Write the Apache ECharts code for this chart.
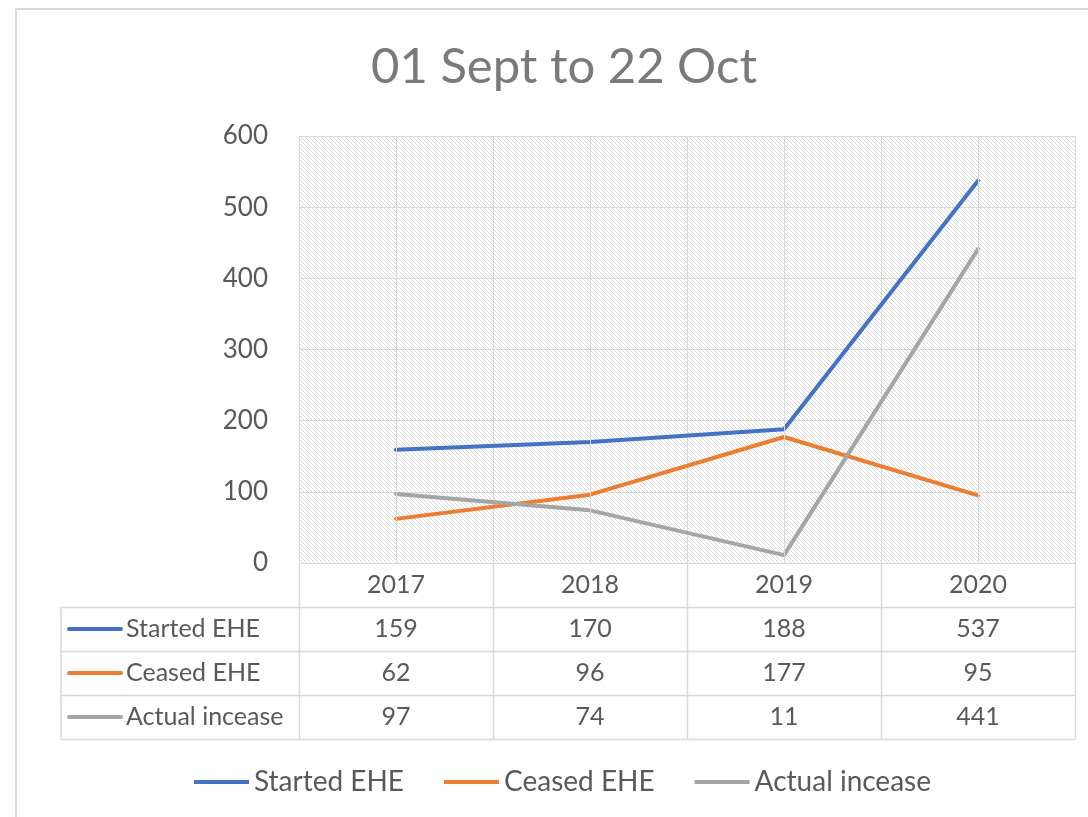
<!DOCTYPE html>
<html>
<head>
<meta charset="utf-8">
<script src="https://cdn.jsdelivr.net/npm/echarts@6/dist/echarts.min.js"></script>
<style>
  html, body { margin: 0; padding: 0; background: #fff; }
  #chart { width: 1088px; height: 817px; }
</style>
</head>
<body>
<div id="chart"></div>
<script>
  var years = ['2017', '2018', '2019', '2020']
  var seriesNames = ['Started EHE', 'Ceased EHE', 'Actual incease']
  var started = [159, 170, 188, 537]
  var ceased = [62, 96, 177, 95]
  var actual = [97, 74, 11, 441]
  var yTicks = [0, 100, 200, 300, 400, 500, 600]
  var colors = ['#4472C4', '#ED7D31', '#A5A5A5']

  var rows = [started, ceased, actual]
  var textColor = '#595959'
  var lineColor = '#d9d9d9'
  var font = 'Lato'

  // light downward diagonal hatch for the plot area
  var tile = document.createElement('canvas')
  tile.width = 4
  tile.height = 4
  var ctx = tile.getContext('2d')
  ctx.fillStyle = '#ffffff'
  ctx.fillRect(0, 0, 4, 4)
  ctx.fillStyle = '#dcdcdc'
  for (var i = 0; i < 4; i++) {
    ctx.fillRect(i, i, 1, 1)
  }

  var chart = echarts.init(document.getElementById('chart'))

  var option = {
    backgroundColor: '#ffffff',
    animation: false,
    title: {
      text: '01 Sept to 22 Oct',
      left: 559,
      textAlign: 'center',
      top: 38,
      textStyle: { fontFamily: font, fontSize: 49, fontWeight: 'normal', color: '#7a7a7a' }
    },
    legend: {
      data: seriesNames,
      left: 189,
      top: 763,
      icon: 'rect',
      itemWidth: 55,
      itemHeight: 4,
      itemGap: 40,
      textStyle: { fontFamily: font, fontSize: 28, color: textColor }
    },
    grid: {
      left: 299,
      right: 13,
      top: 136,
      bottom: 254,
      show: true,
      borderWidth: 0,
      backgroundColor: { image: tile, repeat: 'repeat' }
    },
    xAxis: {
      type: 'category',
      data: years,
      boundaryGap: true,
      axisLine: { show: true, lineStyle: { color: lineColor, width: 1 } },
      axisTick: { show: false },
      splitLine: { show: true, interval: 0, lineStyle: { color: lineColor, width: 1 } },
      axisLabel: { fontFamily: font, fontSize: 25, color: textColor, margin: 22, verticalAlign: 'middle' }
    },
    yAxis: {
      type: 'value',
      min: 0,
      max: 600,
      interval: 100,
      axisLine: { show: false },
      axisTick: { show: false },
      splitLine: { show: true, lineStyle: { color: lineColor, width: 1 } },
      axisLabel: { fontFamily: font, fontSize: 26, color: textColor, margin: 31 }
    },
    series: [
      {
        name: 'centres',
        type: 'line',
        data: [],
        z: 1,
        silent: true,
        markLine: {
          silent: true,
          symbol: ['none', 'none'],
          label: { show: false },
          lineStyle: { color: lineColor, width: 1, type: 'solid' },
          data: years.map(function (y) { return { xAxis: y } })
        }
      }
    ].concat(seriesNames.map(function (name, k) {
      return {
        name: name,
        type: 'line',
        z: 3,
        data: rows[k],
        symbol: 'none',
        color: colors[k],
        itemStyle: { color: colors[k] },
        lineStyle: { color: colors[k], width: 4, cap: 'round', join: 'round' }
      }
    }))
  }

  chart.setOption(option)

  // data table under the plot, placed from the axis scale
  var cx = years.map(function (y) { return chart.convertToPixel({ xAxisIndex: 0 }, y) })
  var band = cx[1] - cx[0]
  var tableTop = chart.convertToPixel({ yAxisIndex: 0 }, 0)
  var rowH = 44
  var tableLeft = 61
  var plotLeft = cx[0] - band / 2
  var plotRight = cx[cx.length - 1] + band / 2
  var els = []

  // outer chart frame
  els.push({ type: 'rect', shape: { x: 16, y: 9, width: 1100, height: 900 }, style: { fill: 'none', stroke: lineColor, lineWidth: 2 }, silent: true })

  for (var r = 1; r <= 4; r++) {
    var y = Math.round(tableTop + r * rowH) + 0.5
    els.push({ type: 'line', shape: { x1: tableLeft, y1: y, x2: plotRight, y2: y }, style: { stroke: lineColor, lineWidth: 1.5 }, silent: true })
  }
  var bottomY = tableTop + 4 * rowH
  els.push({ type: 'line', shape: { x1: tableLeft, y1: tableTop + rowH, x2: tableLeft, y2: bottomY }, style: { stroke: lineColor, lineWidth: 1.5 }, silent: true })
  for (var c = 0; c <= years.length; c++) {
    var x = Math.round(plotLeft + c * band) + 0.5
    els.push({ type: 'line', shape: { x1: x, y1: tableTop, x2: x, y2: bottomY }, style: { stroke: lineColor, lineWidth: 1.5 }, silent: true })
  }

  for (var k = 0; k < rows.length; k++) {
    var yc = tableTop + (k + 1.5) * rowH
    els.push({ type: 'line', shape: { x1: 69, y1: yc, x2: 121, y2: yc }, style: { stroke: colors[k], lineWidth: 4, lineCap: 'round' }, silent: true })
    els.push({ type: 'text', x: 126, y: yc, style: { text: seriesNames[k], fontFamily: font, fontSize: 25, fill: textColor, verticalAlign: 'middle', align: 'left' }, silent: true })
    for (var j = 0; j < years.length; j++) {
      els.push({ type: 'text', x: cx[j], y: yc, style: { text: String(rows[k][j]), fontFamily: font, fontSize: 25, fill: textColor, verticalAlign: 'middle', align: 'center' }, silent: true })
    }
  }

  chart.setOption({ graphic: els })
</script>
</body>
</html>
